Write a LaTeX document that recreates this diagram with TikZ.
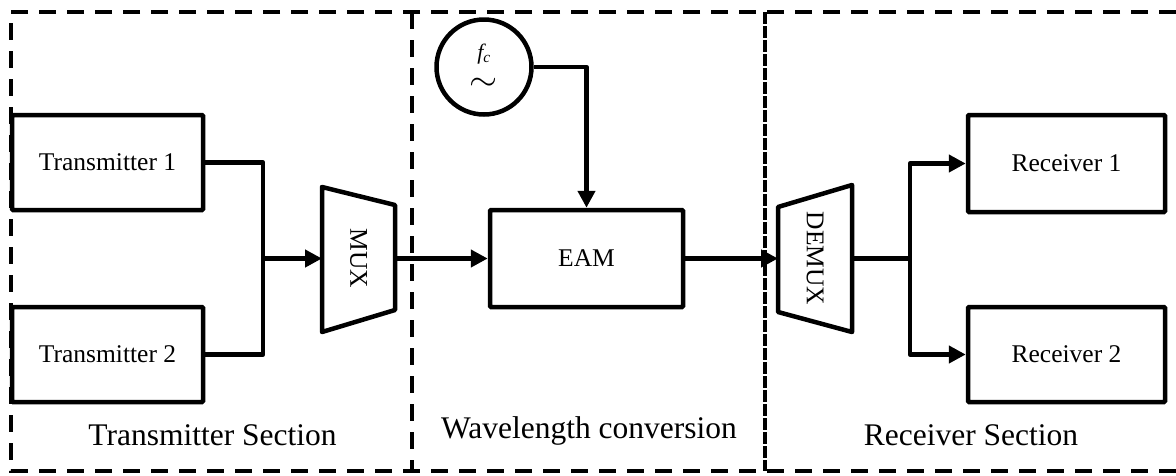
\documentclass[tikz,border=0pt]{standalone}
\usepackage{fontspec}
\setmainfont{Liberation Serif}
\usetikzlibrary{arrows.meta}
\begin{document}
\begin{tikzpicture}[x=1pt,y=-1pt,
  blk/.style={draw,line width=4.5pt,rounded corners=1pt,inner sep=0pt,
    font=\fontsize{25.5}{30}\selectfont},
  wire/.style={line width=4.5pt},
  arr/.style={wire,-{Triangle[length=17pt,width=17pt]}},
  sect/.style={line width=3.5pt,dash pattern=on 17pt off 11pt},
  dense/.style={line width=3.5pt,dash pattern=on 12pt off 2pt},
  lbl/.style={anchor=base,inner sep=0pt,font=\fontsize{31.5}{36}\selectfont},
  rot/.style={rotate=-90,inner sep=0pt,font=\fontsize{25.5}{30}\selectfont}]
\useasboundingbox (0,0) rectangle (1176,475);
% section borders
\coordinate (b1) at (1176,12);
\coordinate (b2) at (11,12);
\coordinate (b3) at (11,471);
\coordinate (b4) at (1176,471);
\draw[sect] (b1) -- (b2) -- (b3) -- (b4);
\coordinate (m1) at (412,12);
\coordinate (m2) at (412,471);
\draw[sect] (m1) -- (m2);
\coordinate (r1) at (765,12);
\coordinate (r2) at (765,471);
\draw[dense] (r1) -- (r2);
% blocks
\node[blk,minimum width=191,minimum height=95] (tx1) at (107.5,162.5) {Transmitter 1};
\node[blk,minimum width=191,minimum height=95] (tx2) at (107.5,354.5) {Transmitter 2};
\node[blk,minimum width=193,minimum height=97] (eam) at (586.5,258.5) {EAM};
\node[blk,minimum width=197,minimum height=97] (rx1) at (1066.5,163.5) {Receiver 1};
\node[blk,minimum width=197,minimum height=95] (rx2) at (1066.5,354.5) {Receiver 2};
% oscillator
\node[draw,circle,line width=4.5pt,minimum size=95,inner sep=0pt] (osc) at (484,67) {};
\node[anchor=base,inner sep=0pt,font=\fontsize{22}{26}\selectfont] (fc) at (484,59) {\itshape f\textsubscript{c}};
\node[anchor=base,inner sep=0pt,font=\fontsize{24}{28}\selectfont] (tl) at (484,90) {\scalebox{1.45}[1.35]{$\sim$}};
% MUX
\coordinate (mx1) at (322,187);
\coordinate (mx2) at (395,205);
\coordinate (mx3) at (395,310);
\coordinate (mx4) at (322,332);
\draw[wire,line join=round] (mx1) -- (mx2) -- (mx3) -- (mx4) -- cycle;
\node[rot] (mux) at (358.5,258.5) {MUX};
\coordinate (muxin) at (322,258.5);
\coordinate (muxout) at (395,258.5);
% DEMUX
\coordinate (dx1) at (778,207);
\coordinate (dx2) at (852,185);
\coordinate (dx3) at (852,332);
\coordinate (dx4) at (778,312);
\draw[wire,line join=round] (dx1) -- (dx2) -- (dx3) -- (dx4) -- cycle;
\node[rot] (demux) at (815,258.5) {DEMUX};
\coordinate (dxin) at (778,258.5);
\coordinate (dxout) at (852,258.5);
% connectors
\coordinate (j) at (263,258.5);
\draw[wire,line join=round] (tx1.east) -| (j) |- (tx2.east);
\draw[arr] (j) -- (muxin);
\draw[arr] (muxout) -- (eam.west);
\draw[arr,line join=round] (osc.east) -| (eam.north);
\draw[arr] (eam.east) -- (dxin);
\coordinate (k) at (910,258.5);
\draw[wire] (dxout) -- (k);
\draw[arr,line join=round] (k) |- (rx1.west);
\draw[arr,line join=round] (k) |- (rx2.west);
% section labels
\node[lbl] (ts) at (212.5,445) {Transmitter Section};
\node[lbl] (wc) at (589,438) {Wavelength conversion};
\node[lbl] (rs) at (971,445) {Receiver Section};
\end{tikzpicture}
\end{document}
